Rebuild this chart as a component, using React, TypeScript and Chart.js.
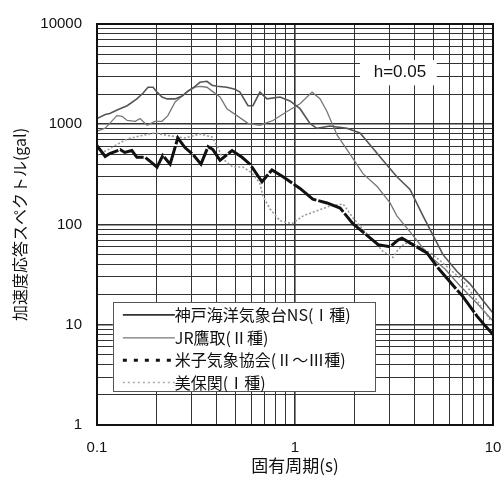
import React, { useEffect, useRef } from 'react';
import { Chart, registerables } from 'chart.js';

Chart.register(...registerables);

// ---- data ----
const seriesNames = ['神戸海洋気象台NS(Ⅰ種)', 'JR鷹取(Ⅱ種)', '米子気象協会(Ⅱ～Ⅲ種)', '美保関(Ⅰ種)'];

const kobePeriod = [0.100, 0.110, 0.116, 0.128, 0.142, 0.159, 0.171, 0.181, 0.192, 0.201, 0.213, 0.226, 0.248, 0.269, 0.288, 0.313, 0.331, 0.359, 0.381, 0.404, 0.453, 0.497, 0.527, 0.579, 0.613, 0.665, 0.722, 0.840, 0.943, 1.06, 1.19, 1.29, 1.50, 1.83, 2.13, 2.39, 2.78, 3.27, 3.81, 4.43, 4.98, 5.59, 6.58, 7.65, 8.90, 10.0];
const kobeAccel = [1140, 1250, 1280, 1400, 1530, 1790, 2050, 2340, 2340, 2090, 1870, 1790, 1790, 1910, 2140, 2390, 2620, 2680, 2450, 2390, 2340, 2240, 2090, 1530, 1530, 2090, 1790, 1870, 1710, 1430, 1020, 910, 960, 910, 820, 625, 437, 299, 224, 122, 78, 50, 34, 25.6, 17.5, 13.1];

const jrPeriod = [0.100, 0.110, 0.116, 0.126, 0.134, 0.142, 0.156, 0.165, 0.179, 0.196, 0.213, 0.228, 0.248, 0.269, 0.288, 0.313, 0.331, 0.359, 0.381, 0.418, 0.453, 0.509, 0.579, 0.665, 0.774, 0.911, 1.06, 1.22, 1.34, 1.45, 1.63, 1.90, 2.21, 2.60, 3.02, 3.27, 3.94, 4.70, 5.72, 6.81, 8.30, 10.0];
const jrAccel = [855, 914, 1020, 1220, 1200, 1090, 1070, 1140, 978, 1070, 1070, 1220, 1670, 1910, 2140, 2340, 2390, 2340, 2140, 1870, 1430, 1220, 1020, 978, 1090, 1340, 1600, 2090, 1790, 1340, 782, 500, 320, 239, 164, 122, 78, 50, 36, 24.5, 16.4, 10.9];

const yonagoPeriod = [0.100, 0.110, 0.116, 0.131, 0.138, 0.150, 0.159, 0.175, 0.185, 0.201, 0.215, 0.234, 0.256, 0.278, 0.305, 0.335, 0.364, 0.385, 0.418, 0.481, 0.540, 0.592, 0.681, 0.765, 0.870, 1.06, 1.23, 1.45, 1.69, 1.96, 2.31, 2.63, 3.02, 3.31, 3.47, 3.94, 4.64, 5.27, 6.06, 7.05, 8.30, 9.11, 10.0];
const yonagoAccel = [611, 478, 511, 559, 523, 547, 468, 468, 428, 374, 489, 400, 731, 585, 500, 400, 598, 559, 437, 547, 468, 400, 267, 350, 299, 229, 179, 164, 146, 102, 78, 63, 60, 70, 73, 63, 52, 37, 26.8, 19.1, 12.2, 9.8, 8.0];

const mihoPeriod = [0.100, 0.114, 0.128, 0.143, 0.165, 0.196, 0.234, 0.278, 0.331, 0.381, 0.408, 0.433, 0.486, 0.546, 0.606, 0.665, 0.689, 0.748, 0.840, 0.966, 1.10, 1.29, 1.50, 1.75, 1.96, 2.21, 2.45, 2.78, 3.13, 3.31, 3.59, 4.04, 4.54, 4.98, 5.86, 7.05, 8.30, 9.66];
const mihoAccel = [489, 559, 640, 715, 765, 818, 765, 731, 800, 748, 585, 447, 374, 374, 327, 256, 191, 143, 109, 102, 122, 137, 153, 160, 117, 89, 71, 54, 47, 56, 65, 63, 56, 50, 38, 27.3, 17.5, 11.2];

const xTickValues = [0.1, 0.2, 0.3, 0.4, 0.5, 0.6, 0.7, 0.8, 0.9, 1, 2, 3, 4, 5, 6, 7, 8, 9, 10];
const xLabelValues = [0.1, 1, 10];
const xTickLabels = ['0.1', '1', '10'];

const yTickValues = [
  1, 2, 3, 4, 5, 6, 7, 8, 9,
  10, 20, 30, 40, 50, 60, 70, 80, 90,
  100, 200, 300, 400, 500, 600, 700, 800, 900,
  1000, 2000, 3000, 4000, 5000, 6000, 7000, 8000, 9000,
  10000,
];
const yLabelValues = [1, 10, 100, 1000, 10000];
const yTickLabels = ['1', '10', '100', '1000', '10000'];

const annotationText = 'h=0.05';
const xTitle = '固有周期(s)';
const yTitle = '加速度応答スペクトル(gal)';

// ---- helpers ----
const toPoints = (xs: number[], ys: number[]) => xs.map((x, i) => ({ x, y: ys[i] }));
const isDecade = (v: number) => Math.abs(Math.log10(v) - Math.round(Math.log10(v))) < 1e-6;
const labelFor = (value: number, vals: number[], labels: string[]) => {
  const i = vals.findIndex((v) => Math.abs(Math.log10(v) - Math.log10(value)) < 1e-6);
  return i >= 0 ? labels[i] : '';
};

const TICK_FONT = '"Liberation Sans", Arial, sans-serif';
const JP_FONT = '"Noto Sans CJK JP", "Noto Sans", sans-serif';

const legendStyles = [
  { color: '#333', width: 1.8, dash: [] as number[] },
  { color: '#777', width: 1.2, dash: [] as number[] },
  { color: '#111', width: 3, dash: [4, 7] },
  { color: '#aaa', width: 1.6, dash: [2, 3] },
];

const overlayPlugin = {
  id: 'overlayPlugin',
  afterDraw(chart: any) {
    const { ctx, chartArea: a } = chart;
    const w = a.right - a.left;
    const h = a.bottom - a.top;
    ctx.save();

    // annotation "h=0.05" with white background
    ctx.fillStyle = '#fff';
    ctx.fillRect(a.left + w * 0.664, a.top + h * 0.09, w * 0.194, h * 0.063);
    ctx.fillStyle = '#111';
    ctx.font = '17px ' + TICK_FONT;
    ctx.textAlign = 'center';
    ctx.textBaseline = 'middle';
    ctx.fillText(annotationText, a.left + w * 0.765, a.top + h * 0.12);

    // legend box
    const lx = a.left + w * 0.04;
    const ly = a.top + h * 0.694;
    const lw = w * 0.662;
    const lh = h * 0.223;
    ctx.fillStyle = '#fff';
    ctx.fillRect(lx, ly, lw, lh);
    ctx.strokeStyle = '#555';
    ctx.lineWidth = 1;
    ctx.strokeRect(Math.round(lx) + 0.5, Math.round(ly) + 0.5, Math.round(lw), Math.round(lh));
    const rowOffsets = [0.141, 0.397, 0.647, 0.897];
    ctx.font = '16px ' + JP_FONT;
    ctx.textAlign = 'left';
    ctx.textBaseline = 'middle';
    seriesNames.forEach((name, i) => {
      const ry = ly + lh * rowOffsets[i];
      const st = legendStyles[i];
      ctx.beginPath();
      ctx.setLineDash(st.dash);
      ctx.strokeStyle = st.color;
      ctx.lineWidth = st.width;
      ctx.moveTo(lx + 10, ry);
      ctx.lineTo(lx + 62, ry);
      ctx.stroke();
      ctx.setLineDash([]);
      ctx.fillStyle = '#111';
      ctx.fillText(name, lx + 62, ry);
    });

    // frame
    ctx.strokeStyle = '#111';
    ctx.lineWidth = 2;
    ctx.strokeRect(a.left, a.top, w, h);
    ctx.restore();
  },
};

export default function App() {
  const canvasRef = useRef<HTMLCanvasElement | null>(null);

  useEffect(() => {
    if (!canvasRef.current) return;
    const gridWidth = (c: any) => (c.tick && isDecade(c.tick.value) ? 1.6 : 1);
    const chart = new Chart(canvasRef.current, {
      type: 'line',
      data: {
        datasets: [
          {
            label: seriesNames[0],
            data: toPoints(kobePeriod, kobeAccel),
            borderColor: '#555',
            borderWidth: 1.6,
            pointRadius: 0,
            order: 2,
          },
          {
            label: seriesNames[1],
            data: toPoints(jrPeriod, jrAccel),
            borderColor: '#777',
            borderWidth: 1.3,
            pointRadius: 0,
            order: 3,
          },
          {
            label: seriesNames[2],
            data: toPoints(yonagoPeriod, yonagoAccel),
            borderColor: '#111',
            borderWidth: 3,
            borderDash: [28, 2],
            pointRadius: 0,
            order: 0,
          },
          {
            label: seriesNames[3],
            data: toPoints(mihoPeriod, mihoAccel),
            borderColor: '#999',
            borderWidth: 1.6,
            borderDash: [2, 2],
            pointRadius: 0,
            order: 1,
          },
        ],
      },
      options: {
        responsive: false,
        animation: false,
        layout: { padding: { top: 13, right: 8, bottom: 0, left: 0 } },
        plugins: {
          legend: { display: false },
          tooltip: { enabled: false },
          title: { display: false },
        },
        scales: {
          x: {
            type: 'logarithmic',
            min: 0.1,
            max: 10,
            afterBuildTicks: (scale: any) => {
              scale.ticks = xTickValues.map((v) => ({ value: v }));
            },
            afterFit: (scale: any) => {
              scale.height = 53;
              scale.paddingLeft = 0;
              scale.paddingRight = 0;
            },
            ticks: {
              autoSkip: false,
              maxRotation: 0,
              padding: 14,
              color: '#111',
              font: { family: TICK_FONT, size: 15 },
              callback: (value: any) => labelFor(Number(value), xLabelValues, xTickLabels),
            },
            grid: { color: '#333', lineWidth: gridWidth, drawTicks: false },
            border: { display: true, color: '#111', width: 2 },
            title: {
              display: true,
              text: xTitle,
              color: '#111',
              font: { family: JP_FONT, size: 17 },
              padding: { top: 0, bottom: 2 },
            },
          },
          y: {
            type: 'logarithmic',
            min: 1,
            max: 10000,
            afterBuildTicks: (scale: any) => {
              scale.ticks = yTickValues.map((v) => ({ value: v }));
            },
            afterFit: (scale: any) => {
              scale.width = 97;
            },
            ticks: {
              autoSkip: false,
              padding: 15,
              color: '#111',
              font: { family: TICK_FONT, size: 15 },
              callback: (value: any) => labelFor(Number(value), yLabelValues, yTickLabels),
            },
            grid: { color: '#333', lineWidth: gridWidth, drawTicks: false },
            border: { display: true, color: '#111', width: 2 },
            title: {
              display: true,
              text: yTitle,
              color: '#111',
              font: { family: JP_FONT, size: 16 },
              padding: { top: 10, bottom: 0 },
            },
          },
        },
      } as any,
      plugins: [overlayPlugin],
    });
    return () => chart.destroy();
  }, []);

  return (
    <div style={{ position: 'absolute', left: 0, top: 0, width: 501, height: 478, overflow: 'hidden', background: '#fff' }}>
      <canvas ref={canvasRef} width={501} height={478} style={{ display: 'block' }} />
    </div>
  );
}
